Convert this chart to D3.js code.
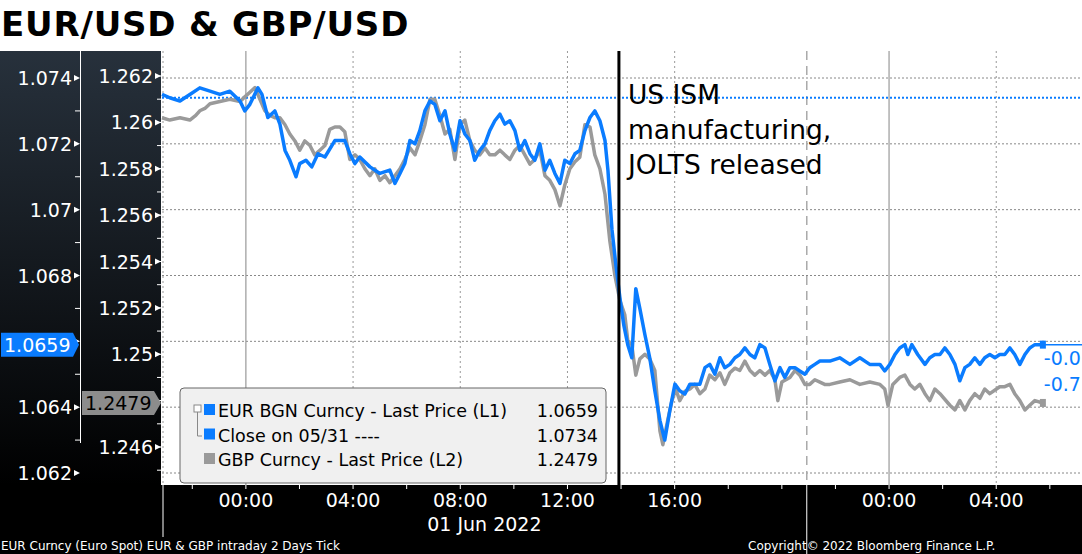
<!DOCTYPE html>
<html><head><meta charset="utf-8">
<script src="https://cdn.jsdelivr.net/npm/d3@7"></script>
<style>body{margin:0;background:#fff}svg{display:block}text{font-family:"DejaVu Sans",sans-serif}</style>
</head><body><svg id="c" width="1082" height="554"></svg>
<script>
// Hours from 01 Jun 2022 00:00
const eurSeries = [[-3.13,1.0735],[-2.84,1.0734],[-2.46,1.0733],[-2.09,1.0735],[-1.72,1.0737],[-1.34,1.0736],[-0.97,1.0735],[-0.60,1.0736],[-0.22,1.0733],[-0.04,1.0730],[0.15,1.0732],[0.45,1.0737],[0.60,1.0735],[0.82,1.0728],[1.08,1.0730],[1.27,1.0726],[1.46,1.0718],[1.64,1.0715],[1.87,1.0710],[2.01,1.0714],[2.24,1.0715],[2.46,1.0713],[2.69,1.0717],[2.95,1.0716],[3.32,1.0721],[3.69,1.0721],[3.88,1.0717],[4.07,1.0714],[4.25,1.0716],[4.63,1.0713],[5.00,1.0711],[5.37,1.0712],[5.56,1.0708],[5.75,1.0711],[5.93,1.0714],[6.12,1.0721],[6.31,1.0720],[6.49,1.0724],[6.68,1.0730],[6.87,1.0733],[7.05,1.0732],[7.24,1.0727],[7.43,1.0730],[7.61,1.0723],[7.80,1.0718],[7.99,1.0727],[8.17,1.0723],[8.36,1.0721],[8.54,1.0715],[8.73,1.0718],[8.92,1.0720],[9.10,1.0724],[9.29,1.0727],[9.48,1.0729],[9.66,1.0726],[9.85,1.0727],[10.04,1.0724],[10.22,1.0718],[10.41,1.0721],[10.60,1.0717],[10.78,1.0715],[10.97,1.0720],[11.16,1.0712],[11.34,1.0715],[11.53,1.0711],[11.72,1.0708],[11.90,1.0715],[12.09,1.0714],[12.28,1.0717],[12.46,1.0718],[12.65,1.0724],[12.84,1.0728],[13.02,1.0730],[13.21,1.0727],[13.40,1.0721],[13.51,1.0712],[13.66,1.0694],[13.81,1.0683],[13.96,1.0673],[14.10,1.0665],[14.25,1.0659],[14.40,1.0655],[14.55,1.0676],[14.70,1.0670],[14.89,1.0662],[15.07,1.0655],[15.26,1.0645],[15.45,1.0636],[15.63,1.0630],[15.82,1.0639],[16.01,1.0647],[16.19,1.0645],[16.38,1.0644],[16.57,1.0647],[16.94,1.0647],[17.13,1.0652],[17.31,1.0653],[17.50,1.0650],[17.69,1.0655],[17.87,1.0652],[18.06,1.0653],[18.25,1.0655],[18.43,1.0656],[18.62,1.0658],[18.81,1.0656],[18.99,1.0655],[19.18,1.0659],[19.37,1.0658],[19.55,1.0653],[19.74,1.0648],[19.93,1.0652],[20.11,1.0649],[20.30,1.0652],[20.49,1.0652],[20.67,1.0651],[20.86,1.0650],[21.04,1.0652],[21.23,1.0653],[21.42,1.0654],[21.79,1.0654],[22.16,1.0655],[22.54,1.0653],[22.91,1.0655],[23.28,1.0653],[23.66,1.0653],[23.84,1.0651],[24.03,1.0653],[24.22,1.0656],[24.40,1.0658],[24.59,1.0659],[24.70,1.0656],[24.85,1.0659],[25.07,1.0656],[25.34,1.0653],[25.52,1.0655],[25.71,1.0656],[25.90,1.0656],[26.08,1.0658],[26.27,1.0656],[26.46,1.0653],[26.64,1.0648],[26.83,1.0652],[27.01,1.0653],[27.20,1.0655],[27.39,1.0653],[27.57,1.0655],[27.76,1.0656],[27.95,1.0655],[28.13,1.0656],[28.32,1.0656],[28.51,1.0658],[28.69,1.0656],[28.88,1.0653],[29.07,1.0656],[29.25,1.0658],[29.44,1.0659],[29.74,1.0659]];
const gbpSeries = [[-3.13,1.2602],[-2.84,1.2601],[-2.46,1.2602],[-2.09,1.2601],[-1.87,1.2603],[-1.72,1.2605],[-1.53,1.2606],[-1.34,1.2608],[-0.97,1.2609],[-0.60,1.2610],[-0.22,1.2609],[-0.04,1.2611],[0.15,1.2613],[0.34,1.2615],[0.52,1.2610],[0.71,1.2605],[0.90,1.2603],[1.08,1.2602],[1.27,1.2602],[1.46,1.2599],[1.64,1.2595],[1.83,1.2592],[2.01,1.2588],[2.20,1.2592],[2.39,1.2590],[2.57,1.2586],[2.76,1.2588],[2.95,1.2590],[3.13,1.2597],[3.32,1.2598],[3.51,1.2598],[3.69,1.2596],[3.88,1.2584],[4.07,1.2586],[4.25,1.2584],[4.44,1.2580],[4.63,1.2577],[4.81,1.2580],[5.00,1.2575],[5.19,1.2577],[5.37,1.2574],[5.56,1.2577],[5.75,1.2580],[5.93,1.2584],[6.12,1.2589],[6.31,1.2586],[6.49,1.2592],[6.68,1.2599],[6.87,1.2610],[7.05,1.2610],[7.24,1.2603],[7.43,1.2595],[7.61,1.2597],[7.80,1.2584],[7.99,1.2599],[8.17,1.2601],[8.36,1.2592],[8.54,1.2588],[8.73,1.2586],[8.92,1.2589],[9.10,1.2586],[9.29,1.2586],[9.48,1.2588],[9.66,1.2586],[9.85,1.2584],[10.04,1.2588],[10.22,1.2590],[10.41,1.2586],[10.60,1.2582],[10.78,1.2584],[10.97,1.2588],[11.16,1.2577],[11.34,1.2575],[11.53,1.2571],[11.72,1.2564],[11.90,1.2573],[12.09,1.2580],[12.28,1.2583],[12.46,1.2585],[12.65,1.2599],[12.84,1.2598],[13.02,1.2586],[13.21,1.2580],[13.40,1.2569],[13.58,1.2549],[13.77,1.2534],[13.96,1.2523],[14.14,1.2517],[14.25,1.2506],[14.40,1.2504],[14.55,1.2491],[14.70,1.2498],[14.89,1.2500],[15.07,1.2498],[15.26,1.2493],[15.45,1.2467],[15.56,1.2461],[15.75,1.2472],[15.90,1.2480],[16.04,1.2485],[16.19,1.2480],[16.38,1.2484],[16.57,1.2485],[16.75,1.2487],[16.94,1.2483],[17.13,1.2485],[17.31,1.2491],[17.50,1.2489],[17.69,1.2492],[17.87,1.2487],[18.06,1.2492],[18.25,1.2494],[18.43,1.2493],[18.62,1.2497],[18.81,1.2493],[18.99,1.2491],[19.18,1.2493],[19.37,1.2491],[19.55,1.2493],[19.74,1.2489],[19.85,1.2480],[20.00,1.2488],[20.30,1.2490],[20.49,1.2493],[20.67,1.2491],[20.86,1.2487],[21.04,1.2487],[21.23,1.2489],[21.42,1.2488],[21.60,1.2487],[21.79,1.2487],[22.16,1.2488],[22.54,1.2489],[22.91,1.2487],[23.28,1.2488],[23.66,1.2487],[23.84,1.2485],[23.96,1.2478],[24.14,1.2487],[24.40,1.2490],[24.59,1.2491],[24.78,1.2487],[24.96,1.2485],[25.15,1.2487],[25.34,1.2483],[25.52,1.2480],[25.71,1.2485],[25.90,1.2483],[26.27,1.2478],[26.46,1.2476],[26.64,1.2480],[26.83,1.2476],[27.01,1.2480],[27.20,1.2483],[27.39,1.2481],[27.57,1.2485],[27.76,1.2483],[28.13,1.2486],[28.32,1.2486],[28.51,1.2487],[28.69,1.2483],[28.88,1.2480],[29.07,1.2476],[29.25,1.2478],[29.44,1.2480],[29.74,1.2479]];
const eurTicks = [1.074,1.072,1.07,1.068,1.066,1.064,1.062];
const eurTickLabels = ["1.074","1.072","1.07","1.068","","1.064","1.062"];
const gbpTicks = [1.262,1.26,1.258,1.256,1.254,1.252,1.25,1.248,1.246];
const gbpTickLabels = ["1.262","1.26","1.258","1.256","1.254","1.252","1.25","","1.246"];
const timeLabels = [[0,"00:00"],[4,"04:00"],[8,"08:00"],[12,"12:00"],[16,"16:00"],[24,"00:00"],[28,"04:00"],[32,"0"]];
const closeEur = 1.0734, lastEur = 1.0659, lastGbp = 1.2479;
const eventHour = 13.92, sessionHour = 20.93;
const legendRows = [["EUR BGN Curncy - Last Price (L1)","1.0659","#0a7cff"],["Close on 05/31 ----","1.0734","#0a7cff"],["GBP Curncy - Last Price (L2)","1.2479","#9a9a9a"]];
const annotation = ["US ISM","manufacturing,","JOLTS released"];

const svg = d3.select("#c");
const L=162, R=1082, T=51, B=485;
const x = d3.scaleLinear().domain([-3.13,31.2]).range([L,R]);
const yE = d3.scaleLinear().domain([1.062,1.074]).range([473,78]);
const yG = d3.scaleLinear().domain([1.246,1.262]).range([447,76]);
const BLUE="#0a7cff", GREY="#9a9a9a";

svg.append("rect").attr("width",1082).attr("height",554).attr("fill","#fff");
svg.append("text").attr("x",1).attr("y",36).attr("font-size",34).attr("font-weight","bold").attr("letter-spacing",0.8).attr("fill","#000").text("EUR/USD & GBP/USD");

const defs=svg.append("defs");
const g=defs.append("linearGradient").attr("id","lg").attr("x1",0).attr("y1",0).attr("x2",0).attr("y2",1);
g.append("stop").attr("offset","0%").attr("stop-color","#27313c");
g.append("stop").attr("offset","100%").attr("stop-color","#000");
svg.append("rect").attr("x",0).attr("y",T).attr("width",L).attr("height",B-T).attr("fill","url(#lg)");
svg.append("line").attr("x1",80.5).attr("x2",80.5).attr("y1",T).attr("y2",B-42).attr("stroke","#fff").attr("stroke-width",1);
svg.append("line").attr("x1",161.5).attr("x2",161.5).attr("y1",T).attr("y2",B).attr("stroke","#fff").attr("stroke-width",1);
svg.append("rect").attr("x",0).attr("y",B).attr("width",1082).attr("height",554-B).attr("fill","#000");

const plot=svg.append("g");
plot.selectAll(".hg").data(eurTicks).join("line").attr("x1",L).attr("x2",R).attr("y1",d=>yE(d)).attr("y2",d=>yE(d)).attr("stroke","#888").attr("stroke-dasharray","2,2");
[4,8,12,16,28].forEach(h=>plot.append("line").attr("x1",x(h)).attr("x2",x(h)).attr("y1",T).attr("y2",B).attr("stroke","#999").attr("stroke-dasharray","2,3"));
plot.append("line").attr("x1",L+1).attr("x2",L+1).attr("y1",T).attr("y2",B).attr("stroke","#999").attr("stroke-dasharray","2,3");
[0,24].forEach(h=>plot.append("line").attr("x1",x(h)).attr("x2",x(h)).attr("y1",T).attr("y2",B).attr("stroke","#999").attr("stroke-width",1.2));
plot.append("line").attr("x1",x(sessionHour)).attr("x2",x(sessionHour)).attr("y1",T).attr("y2",B).attr("stroke","#aaa").attr("stroke-width",1.5).attr("stroke-dasharray","9,6");
plot.append("line").attr("x1",x(sessionHour)).attr("x2",x(sessionHour)).attr("y1",B).attr("y2",554).attr("stroke","#fff").attr("stroke-width",1);
plot.append("line").attr("x1",L+1).attr("x2",L+1).attr("y1",B).attr("y2",537).attr("stroke","#fff").attr("stroke-width",1);

plot.append("line").attr("x1",L).attr("x2",R).attr("y1",yE(closeEur)).attr("y2",yE(closeEur)).attr("stroke",BLUE).attr("stroke-width",2).attr("stroke-dasharray","2,2");

const lineE=d3.line().x(d=>x(d[0])).y(d=>yE(d[1]));
const lineG=d3.line().x(d=>x(d[0])).y(d=>yG(d[1]));
plot.append("path").attr("d",lineG(gbpSeries)).attr("fill","none").attr("stroke",GREY).attr("stroke-width",3.5).attr("stroke-linejoin","round");
plot.append("path").attr("d",lineE(eurSeries)).attr("fill","none").attr("stroke",BLUE).attr("stroke-width",3.5).attr("stroke-linejoin","round");
const lastT=eurSeries[eurSeries.length-1][0];
plot.append("line").attr("x1",x(lastT)).attr("x2",R).attr("y1",yE(lastEur)).attr("y2",yE(lastEur)).attr("stroke",BLUE).attr("stroke-width",1.5);
plot.append("rect").attr("x",x(lastT)-3).attr("y",yE(lastEur)-4).attr("width",6).attr("height",8).attr("fill",BLUE);
plot.append("rect").attr("x",x(lastT)-3).attr("y",yG(lastGbp)-4).attr("width",6).attr("height",8).attr("fill",GREY);
plot.append("text").attr("x",x(lastT)+1).attr("y",yE(lastEur)+20).attr("font-size",19).attr("fill",BLUE).text("-0.07%");
plot.append("text").attr("x",x(lastT)+1).attr("y",yE(lastEur)+46).attr("font-size",19).attr("fill",BLUE).text("-0.76%");

plot.append("line").attr("x1",x(eventHour)).attr("x2",x(eventHour)).attr("y1",T).attr("y2",B).attr("stroke","#000").attr("stroke-width",3);
annotation.forEach((s,i)=>plot.append("text").attr("x",x(eventHour)+9).attr("y",104+i*35).attr("font-size",26.5).attr("font-family","Liberation Sans").attr("fill","#000").text(s));

const lg=svg.append("g").attr("transform","translate(180,388)");
lg.append("rect").attr("width",426).attr("height",95).attr("rx",4).attr("fill","#f0f0f0").attr("stroke","#666");
lg.append("rect").attr("x",14).attr("y",17).attr("width",7).attr("height",7).attr("fill","#fff").attr("stroke","#888");
lg.append("path").attr("d","M17.5,24 V48 H22").attr("fill","none").attr("stroke","#888");
legendRows.forEach((r,i)=>{
  const yy=23+i*24.5;
  lg.append("rect").attr("x",24).attr("y",yy-7).attr("width",11).attr("height",11).attr("fill",r[2]);
  lg.append("text").attr("x",38).attr("y",yy+6).attr("font-size",17.5).attr("fill","#000").text(r[0]);
  lg.append("text").attr("x",418).attr("y",yy+6).attr("font-size",17.5).attr("text-anchor","end").attr("fill","#000").text(r[1]);
});

const ax=svg.append("g");
eurTicks.forEach((v,i)=>{
  ax.append("text").attr("x",72).attr("y",yE(v)+7).attr("text-anchor","end").attr("font-size",19).attr("fill","#fff").text(eurTickLabels[i]);
  ax.append("path").attr("d",`M80,${yE(v)} l-6,-3 v6z`).attr("fill","#fff");
});
[1.073,1.071,1.069,1.067,1.065,1.063].forEach(v=>ax.append("line").attr("x1",75).attr("x2",80).attr("y1",yE(v)).attr("y2",yE(v)).attr("stroke","#fff"));
gbpTicks.forEach((v,i)=>{
  ax.append("text").attr("x",153).attr("y",yG(v)+7).attr("text-anchor","end").attr("font-size",19).attr("fill","#fff").text(gbpTickLabels[i]);
  ax.append("path").attr("d",`M161,${yG(v)} l-6,-3 v6z`).attr("fill","#fff");
});
d3.range(1.245,1.2625,0.001).forEach(v=>ax.append("line").attr("x1",157).attr("x2",161).attr("y1",yG(v)).attr("y2",yG(v)).attr("stroke","#fff"));
ax.append("path").attr("d",`M1,${yE(lastEur)-12} H73 L79,${yE(lastEur)} L73,${yE(lastEur)+12} H1Z`).attr("fill",BLUE);
ax.append("text").attr("x",4).attr("y",yE(lastEur)+7).attr("font-size",19).attr("fill","#fff").text("1.0659");
ax.append("path").attr("d",`M82,${yG(lastGbp)-12} H154 L161,${yG(lastGbp)} L154,${yG(lastGbp)+12} H82Z`).attr("fill","#8c8c8c");
ax.append("text").attr("x",85).attr("y",yG(lastGbp)+7).attr("font-size",19).attr("fill","#000").text("1.2479");

d3.range(-2,32,2).forEach(h=>ax.append("line").attr("x1",x(h)).attr("x2",x(h)).attr("y1",B).attr("y2",B+4).attr("stroke","#fff"));
timeLabels.forEach(([h,s])=>ax.append("text").attr("x",x(h)).attr("y",B+22).attr("text-anchor","middle").attr("font-size",19).attr("fill","#fff").text(s));
ax.append("text").attr("x",x(8.9)).attr("y",B+46).attr("text-anchor","middle").attr("font-size",19).attr("fill","#fff").text("01 Jun 2022");
ax.append("text").attr("x",x(32)).attr("y",B+46).attr("text-anchor","middle").attr("font-size",19).attr("fill","#fff").text("02");
ax.append("text").attr("x",1).attr("y",550).attr("font-size",12).attr("fill","#fff").text("EUR Curncy (Euro Spot) EUR & GBP intraday 2 Days  Tick");
ax.append("text").attr("x",748).attr("y",550).attr("font-size",12).attr("fill","#fff").text("Copyright© 2022 Bloomberg Finance L.P.");
</script></body></html>
